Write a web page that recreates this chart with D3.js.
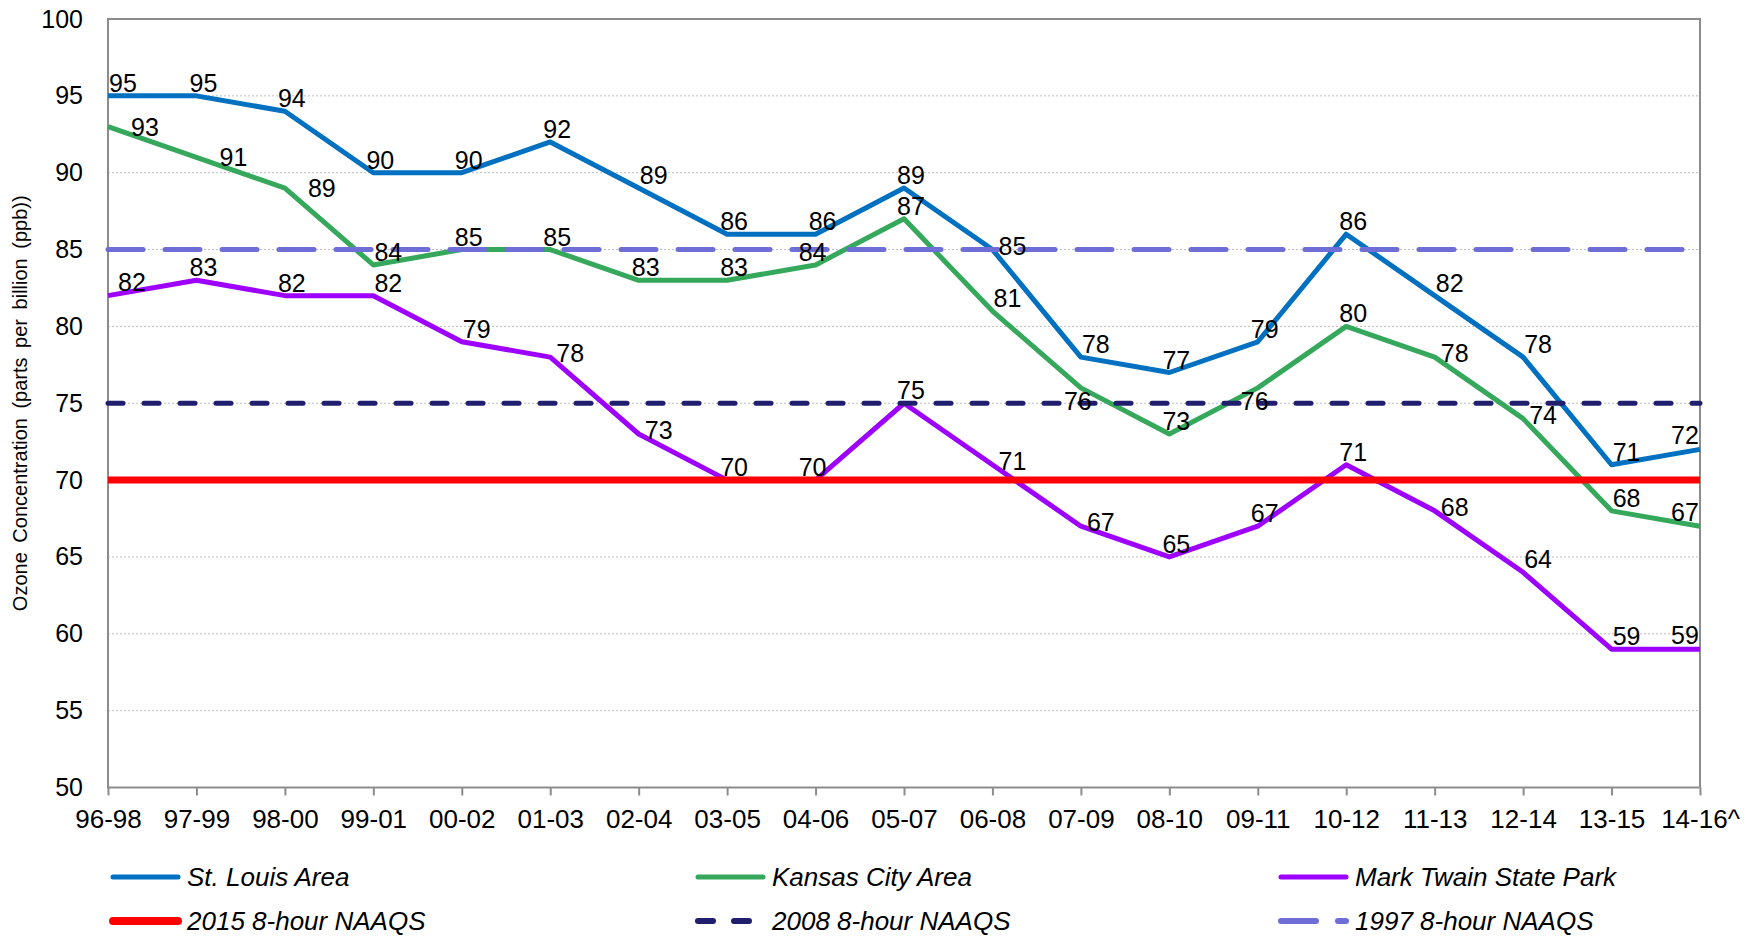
<!DOCTYPE html>
<html>
<head>
<meta charset="utf-8">
<script src="https://cdn.jsdelivr.net/npm/d3@7"></script>
<style>
  body { margin: 0; background: #fff; }
  text { font-family: "Liberation Sans", Arial, sans-serif; fill: #000; }
</style>
</head>
<body>
<svg id="chart"></svg>
<script>
// 3-year design value periods
const periods = ["96-98","97-99","98-00","99-01","00-02","01-03","02-04","03-05","04-06",
  "05-07","06-08","07-09","08-10","09-11","10-12","11-13","12-14","13-15","14-16^"];

const stLouis    = [95,95,94,90,90,92,89,86,86,89,85,78,77,79,86,82,78,71,72];
const kansasCity = [93,91,89,84,85,85,83,83,84,87,81,76,73,76,80,78,74,68,67];
const markTwain  = [82,83,82,82,79,78,73,70,70,75,71,67,65,67,71,68,64,59,59];

// label placement per point (like excel's hand-moved labels)
const stLouisPos    = ["tr","t","t","t","t","t","tr","t","t","t","r","tr","t","t","t","tr","tr","tr","tl"];
const kansasCityPos = ["rr","rr","rr","tr","t","t","t","t","c","t","tr","b","t","b","t","r","r","tr","tl"];
const markTwainPos  = ["trr","t","t","tr","tr","r","r","t","c","t","r","r","t","t","t","r","tr","tr","tl"];

// standards (ppb)
const naaqs2015 = 70;
const naaqs2008 = 75;
const naaqs1997 = 85;

const yTicks = [50,55,60,65,70,75,80,85,90,95,100];

const seriesNames = ["St. Louis Area","Kansas City Area","Mark Twain State Park"];
const standardNames = ["2015 8-hour NAAQS","2008 8-hour NAAQS","1997 8-hour NAAQS"];

class OzoneChart {
  constructor(_config) {
    this.config = {
      parentElement: _config.parentElement,
      containerWidth: _config.containerWidth || 1750,
      containerHeight: _config.containerHeight || 936,
      margin: { top: 19, bottom: 148.5, right: 50, left: 108 }
    }
    this.initVis();
  }

  initVis() {
    let vis = this;
    vis.width = vis.config.containerWidth - vis.config.margin.left - vis.config.margin.right;
    vis.height = vis.config.containerHeight - vis.config.margin.top - vis.config.margin.bottom;

    vis.svg = d3.select(vis.config.parentElement)
        .attr('width', vis.config.containerWidth)
        .attr('height', vis.config.containerHeight);

    vis.chart = vis.svg.append('g')
        .attr('transform', `translate(${vis.config.margin.left},${vis.config.margin.top})`);

    vis.xScale = d3.scalePoint().domain(periods).range([0, vis.width]).padding(0);
    vis.yScale = d3.scaleLinear().domain([50, 100]).range([vis.height, 0]);

    // styles
    vis.series = [
      { name: seriesNames[0], values: stLouis,    pos: stLouisPos,    color: '#0070c0', width: 5 },
      { name: seriesNames[1], values: kansasCity, pos: kansasCityPos, color: '#35a85c', width: 5 },
      { name: seriesNames[2], values: markTwain,  pos: markTwainPos,  color: '#9d00ff', width: 5 }
    ];
    vis.standards = [
      { name: standardNames[0], value: naaqs2015, color: '#ff0000', width: 7, dash: null },
      { name: standardNames[1], value: naaqs2008, color: '#1f1f6e', width: 5, dash: '15,21' },
      { name: standardNames[2], value: naaqs1997, color: '#6e6ed6', width: 5, dash: '35,22' }
    ];

    vis.renderVis();
  }

  renderVis() {
    let vis = this;

    // gridlines
    vis.chart.selectAll('.grid')
      .data(yTicks.filter(d => d > 50 && d < 100))
      .join('line')
        .attr('class', 'grid')
        .attr('x1', 0).attr('x2', vis.width)
        .attr('y1', d => vis.yScale(d)).attr('y2', d => vis.yScale(d))
        .attr('stroke', '#bdbdbd')
        .attr('stroke-width', 1)
        .attr('stroke-dasharray', '2,2');

    // x axis
    const xAxis = d3.axisBottom(vis.xScale).tickSize(8).tickPadding(14);
    const xg = vis.chart.append('g')
        .attr('transform', `translate(0,${vis.height})`)
        .call(xAxis);
    xg.select('.domain').remove();
    xg.selectAll('line').attr('stroke', '#8c8c8c').attr('stroke-width', 2);
    xg.selectAll('text').style('font-size', '26px').attr('fill', '#000')
      .attr('font-family', '"Liberation Sans", Arial, sans-serif');

    // y axis
    const yAxis = d3.axisLeft(vis.yScale).tickValues(yTicks).tickSize(0).tickPadding(25);
    const yg = vis.chart.append('g').call(yAxis);
    yg.select('.domain').remove();
    yg.selectAll('text').style('font-size', '25px').attr('fill', '#000')
      .attr('font-family', '"Liberation Sans", Arial, sans-serif');

    // plot border
    vis.chart.append('rect')
        .attr('x', 0).attr('y', 0)
        .attr('width', vis.width).attr('height', vis.height)
        .attr('fill', 'none')
        .attr('stroke', '#8c8c8c')
        .attr('stroke-width', 2);

    // y axis title
    vis.svg.append('text')
        .attr('transform', `translate(27,${vis.config.margin.top + vis.height / 2}) rotate(-90)`)
        .attr('text-anchor', 'middle')
        .style('font-size', '20px')
        .style('word-spacing', '4px')
        .attr('fill', '#222')
        .text('Ozone Concentration (parts per billion (ppb))');

    // series lines
    const line = d3.line()
        .x((d, i) => vis.xScale(periods[i]))
        .y(d => vis.yScale(d));

    vis.chart.selectAll('.line')
      .data(vis.series)
      .join('path')
        .attr('class', 'line')
        .attr('fill', 'none')
        .attr('stroke', d => d.color)
        .attr('stroke-width', d => d.width)
        .attr('stroke-linejoin', 'round')
        .attr('d', d => line(d.values));

    // standards drawn over the series
    vis.chart.selectAll('.std')
      .data(vis.standards)
      .join('line')
        .attr('class', 'std')
        .attr('x1', vis.xScale(periods[0]))
        .attr('x2', vis.xScale(periods[periods.length - 1]))
        .attr('y1', d => vis.yScale(d.value))
        .attr('y2', d => vis.yScale(d.value))
        .attr('stroke', d => d.color)
        .attr('stroke-width', d => d.width)
        .attr('stroke-linecap', d => d.dash ? 'round' : 'butt')
        .attr('stroke-dasharray', d => d.dash);

    // data labels
    const offs = {
      t:  [7, -13], c: [-3, -13], tr: [15, -13], trr: [24, -14], r: [20, -4], rr: [37, 0],
      b: [-3, 13], tl: [-15, -14]
    };
    vis.series.forEach(s => {
      vis.chart.append('g').selectAll('text')
        .data(s.values)
        .join('text')
          .attr('x', (d, i) => vis.xScale(periods[i]) + offs[s.pos[i]][0])
          .attr('y', (d, i) => vis.yScale(d) + offs[s.pos[i]][1] + 9)
          .attr('text-anchor', 'middle')
          .style('font-size', '25px')
          .text(d => d);
    });

    // legend
    const legendItems = vis.series.map(s => ({ name: s.name, color: s.color, width: 5, dash: null }))
      .concat(vis.standards.map(s => ({ name: s.name, color: s.color, width: s.dash ? 6 : 8, dash: s.dash })));
    const colX = [110, 695, 1278];
    const rowY = [877, 921];

    const leg = vis.svg.selectAll('.legend')
      .data(legendItems)
      .join('g')
        .attr('class', 'legend')
        .attr('transform', (d, i) => `translate(${colX[i % 3]},${rowY[Math.floor(i / 3)]})`);

    leg.append('line')
        .attr('x1', 3).attr('x2', 68)
        .attr('y1', 0).attr('y2', 0)
        .attr('stroke', d => d.color)
        .attr('stroke-width', d => d.width)
        .attr('stroke-linecap', 'round')
        .attr('stroke-dasharray', d => d.dash);

    leg.append('text')
        .attr('x', 77)
        .attr('y', 9)
        .style('font-size', '26px')
        .style('font-style', 'italic')
        .text(d => d.name);
  }
}

let ozoneChart = new OzoneChart({ parentElement: '#chart' });
</script>
</body>
</html>
